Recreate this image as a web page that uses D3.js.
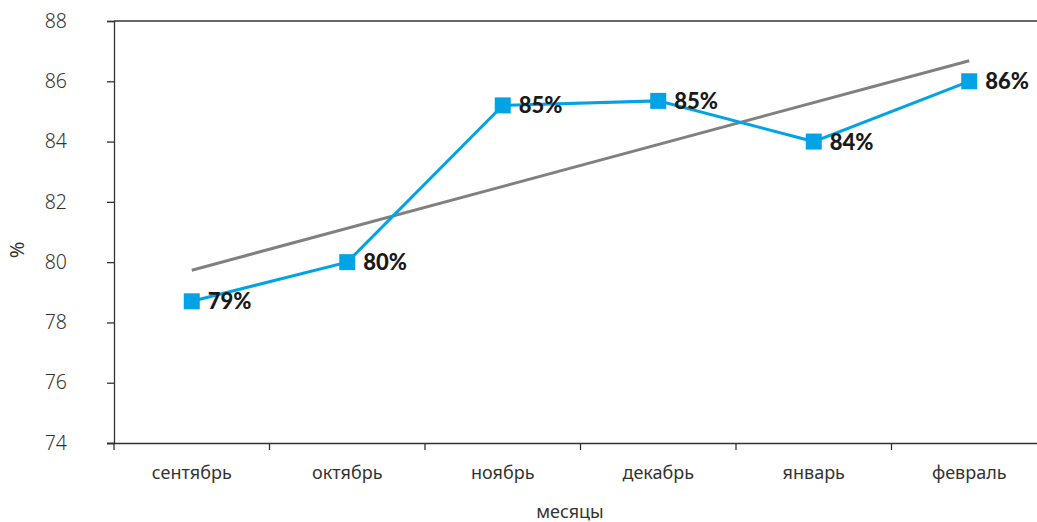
<!DOCTYPE html>
<html>
<head>
<meta charset="utf-8">
<script src="https://cdn.jsdelivr.net/npm/d3@7"></script>
<style>
  body { margin: 0; background: #fff; }
  svg { display: block; overflow: hidden; }
  .tick text { fill: #333; }
</style>
</head>
<body>
<svg id="chart" width="1037" height="522"></svg>
<script>
// --- data ---
const months = ["сентябрь", "октябрь", "ноябрь", "декабрь", "январь", "февраль"];
const values = [78.7, 80.0, 85.2, 85.35, 84.0, 86.0];
const labels = ["79%", "80%", "85%", "85%", "84%", "86%"];
const yTicks = [74, 76, 78, 80, 82, 84, 86, 88];

const svg = d3.select("#chart");
const W = 1037, H = 522;
const plot = { left: 114, top: 21, right: 1047, bottom: 443 };

const x = d3.scaleBand().domain(months).range([plot.left, plot.right]);
const y = d3.scaleLinear().domain([74, 88]).range([plot.bottom, plot.top]);
const cx = d => x(d) + x.bandwidth() / 2;

// linear trendline (least squares over index)
const n = values.length;
const xs = d3.range(1, n + 1);
const mx = d3.mean(xs), my = d3.mean(values);
const slope = d3.sum(xs, (xi, i) => (xi - mx) * (values[i] - my)) / d3.sum(xs, xi => (xi - mx) ** 2);
const trend = xs.map(xi => my + slope * (xi - mx));

// frame top line
svg.append("line")
    .attr("x1", plot.left).attr("x2", W)
    .attr("y1", plot.top).attr("y2", plot.top)
    .attr("stroke", "#333").attr("stroke-width", 1.3);

// y axis
const yAxis = svg.append("g").attr("transform", `translate(${plot.left},0)`)
    .call(d3.axisLeft(y).tickValues(yTicks).tickSize(7).tickPadding(40));
yAxis.select(".domain").attr("stroke", "#333").attr("stroke-width", 1.3);
yAxis.selectAll(".tick line").attr("stroke", "#333").attr("stroke-width", 1.3);
yAxis.selectAll(".tick text")
    .attr("font-family", "'Noto Sans', sans-serif").attr("font-size", 19.5).attr("font-weight", 300)
    .attr("text-anchor", "end").attr("x", -47);

// x axis
const xAxis = svg.append("g").attr("transform", `translate(0,${plot.bottom})`)
    .call(d3.axisBottom(x).tickSize(0).tickPadding(23));
xAxis.select(".domain").attr("stroke", "#333").attr("stroke-width", 1.3)
    .attr("d", `M${plot.left - 7},0.5H${plot.right}`);
xAxis.selectAll(".tick text")
    .attr("font-family", "'Noto Sans', sans-serif").attr("font-size", 18);
// boundary ticks between categories
xAxis.selectAll(".bound").data(months).enter().append("line")
    .attr("class", "bound")
    .attr("x1", d => x(d)).attr("x2", d => x(d))
    .attr("y1", 0).attr("y2", 7)
    .attr("stroke", "#333").attr("stroke-width", 1.3);

// axis titles
svg.append("text")
    .attr("x", 570).attr("y", 518)
    .attr("text-anchor", "middle")
    .attr("font-family", "'Noto Sans', sans-serif").attr("font-size", 18).attr("fill", "#333")
    .text("месяцы");
svg.append("text")
    .attr("transform", "translate(24,250) rotate(-90)")
    .attr("text-anchor", "middle")
    .attr("font-family", "'Noto Sans', sans-serif").attr("font-size", 20).attr("fill", "#333")
    .text("%");

// trend line
svg.append("line")
    .attr("x1", cx(months[0])).attr("y1", y(trend[0]))
    .attr("x2", cx(months[n - 1])).attr("y2", y(trend[n - 1]))
    .attr("stroke", "#808080").attr("stroke-width", 3);

// series line
const line = d3.line().x((d, i) => cx(months[i])).y(d => y(d));
svg.append("path").datum(values)
    .attr("d", line)
    .attr("fill", "none").attr("stroke", "#00a3e6").attr("stroke-width", 3);

// markers
svg.append("g").selectAll("rect").data(values).enter().append("rect")
    .attr("x", (d, i) => cx(months[i]) - 8).attr("y", d => y(d) - 8)
    .attr("width", 16).attr("height", 16)
    .attr("fill", "#00a3e6");

// value labels
svg.append("g").selectAll("text").data(values).enter().append("text")
    .attr("x", (d, i) => cx(months[i]) + 16).attr("y", d => y(d) + 8)
    .attr("font-family", "Lato, sans-serif").attr("font-weight", 900).attr("font-size", 22)
    .attr("fill", "#1a1a1a")
    .text((d, i) => labels[i]);
</script>
</body>
</html>
